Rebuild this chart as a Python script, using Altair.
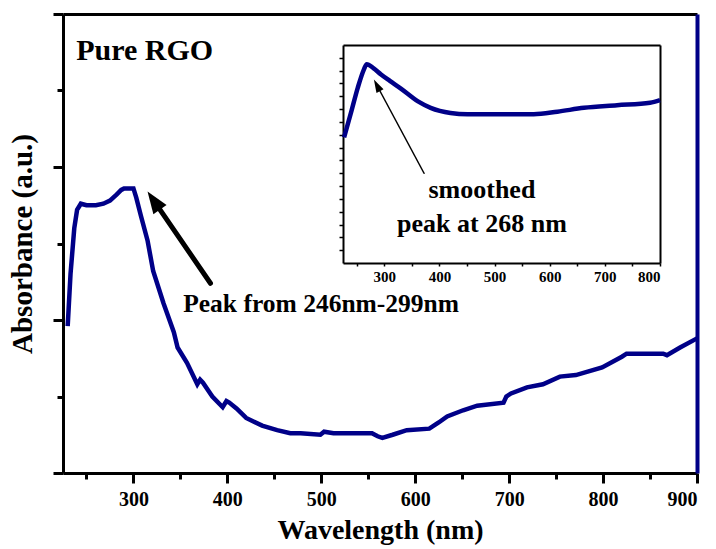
import math

import altair as alt
import pandas as pd

# Full UV-vis absorbance spectrum of pure RGO (nm, a.u.)
main_wavelength = [230, 233, 237, 240, 244, 250, 260, 268, 275, 282, 287, 290, 300, 303,
                   308, 315, 321, 332, 343, 347, 357, 368, 371, 374, 384, 395, 399, 402,
                   410, 420, 437, 453, 467, 478, 499, 503, 513, 554, 560, 565, 576, 591,
                   615, 625, 634, 651, 666, 694, 697, 702, 719, 736, 754, 771, 799, 820,
                   825, 864, 868, 882, 900]
main_absorbance = [0.96, 1.30, 1.60, 1.72, 1.76, 1.75, 1.75, 1.76, 1.78, 1.82, 1.85, 1.86,
                   1.86, 1.80, 1.68, 1.52, 1.32, 1.11, 0.92, 0.82, 0.72, 0.58, 0.61, 0.59,
                   0.50, 0.43, 0.47, 0.46, 0.42, 0.36, 0.31, 0.28, 0.26, 0.26, 0.25, 0.27,
                   0.26, 0.26, 0.24, 0.23, 0.25, 0.28, 0.29, 0.33, 0.37, 0.41, 0.44, 0.46,
                   0.50, 0.52, 0.56, 0.58, 0.63, 0.64, 0.69, 0.76, 0.78, 0.78, 0.77, 0.82,
                   0.88]

# Smoothed spectrum shown in the inset
inset_wavelength = [227, 240, 252, 263, 268, 280, 294, 310, 330, 361, 384, 420, 451, 511,
                    571, 614, 662, 722, 782, 800]
inset_absorbance = [0.98, 1.18, 1.37, 1.51, 1.55, 1.52, 1.47, 1.42, 1.36, 1.26, 1.21, 1.17,
                    1.16, 1.16, 1.16, 1.18, 1.21, 1.23, 1.25, 1.27]

# Axis ticks
main_x_ticks = list(range(250, 901, 50))
main_y_ticks = [0, 0.5, 1, 1.5, 2, 2.5, 3]
inset_x_ticks = list(range(250, 801, 50))
inset_y_ticks = [round(0.1 * i, 1) for i in range(1, 17)]

# Annotations: (wavelength, absorbance) anchors
sample_label = {"wl": 239, "ab": 2.70, "note": "Pure RGO"}
peak_label = {"wl": 353, "ab": 1.05, "note": "Peak from 246nm-299nm"}
peak_arrow = {"tail": (382, 1.24), "tip": (315, 1.84)}
inset_labels = {"wl": [477, 477], "ab": [0.51, 0.24], "note": ["smoothed", "peak at 268 nm"]}
inset_arrow = {"tail": (372, 0.70), "tip": (281, 1.43)}

NAVY = "#000088"
SERIF = "Liberation Serif"
W, H = 634, 459

MAIN_X = [225, 900]
MAIN_Y = [0, 3]
INSET_X = [225, 800]
INSET_Y = [0, 1.7]
INSET_XR = [280, 597]
INSET_YR = [249, 31]


def sx(dom, rng=None):
    if rng is None:
        return alt.Scale(domain=dom, nice=False, zero=False)
    return alt.Scale(domain=dom, range=rng, nice=False, zero=False)


def to_px(p, xd, yd, xr, yr):
    x = xr[0] + (p[0] - xd[0]) / (xd[1] - xd[0]) * (xr[1] - xr[0])
    y = yr[0] + (p[1] - yd[0]) / (yd[1] - yd[0]) * (yr[1] - yr[0])
    return x, y


def from_px(q, xd, yd, xr, yr):
    l = xd[0] + (q[0] - xr[0]) / (xr[1] - xr[0]) * (xd[1] - xd[0])
    v = yd[0] + (q[1] - yr[0]) / (yr[1] - yr[0]) * (yd[1] - yd[0])
    return l, v


def arrow_layers(arrow, xd, yd, xr, yr, width, head_len, head_half):
    tail = to_px(arrow["tail"], xd, yd, xr, yr)
    tip = to_px(arrow["tip"], xd, yd, xr, yr)
    dx, dy = tip[0] - tail[0], tip[1] - tail[1]
    n = math.hypot(dx, dy)
    ux, uy = dx / n, dy / n
    end = (tip[0] - ux * head_len * 0.6, tip[1] - uy * head_len * 0.6)
    end_d = from_px(end, xd, yd, xr, yr)
    shaft = pd.DataFrame({"x": [arrow["tail"][0]], "y": [arrow["tail"][1]],
                          "x2": [end_d[0]], "y2": [end_d[1]]})
    angle = math.degrees(math.atan2(dx, -dy)) % 360
    w = 2 * head_half / head_len
    path = f"M0,0L{-w:.3f},2L{w:.3f},2Z"
    head = pd.DataFrame({"x": [arrow["tip"][0]], "y": [arrow["tip"][1]]})
    sc_x = sx(xd, None if xr == [0, W] else xr)
    sc_y = sx(yd, None if yr == [H, 0] else yr)
    rule = alt.Chart(shaft).mark_rule(color="black", strokeWidth=width, strokeCap="round").encode(
        x=alt.X("x:Q", scale=sc_x, axis=None),
        y=alt.Y("y:Q", scale=sc_y, axis=None),
        x2="x2:Q", y2="y2:Q")
    tri = alt.Chart(head).mark_point(shape=path, filled=True, fill="black", strokeWidth=0,
                                     opacity=1, size=head_len ** 2, angle=angle).encode(
        x=alt.X("x:Q", scale=sc_x, axis=None),
        y=alt.Y("y:Q", scale=sc_y, axis=None))
    return [rule, tri]


main_df = pd.DataFrame({"wl": main_wavelength, "ab": main_absorbance,
                        "i": range(len(main_wavelength))})
inset_df = pd.DataFrame({"wl": inset_wavelength, "ab": inset_absorbance})

axis_font = dict(labelFont=SERIF, labelFontWeight="bold", labelColor="black",
                 titleFont=SERIF, titleFontWeight="bold", titleColor="black", grid=False)

main_line = alt.Chart(main_df).mark_line(color=NAVY, strokeWidth=4.5).encode(
    x=alt.X("wl:Q", scale=sx(MAIN_X), axis=alt.Axis(
        orient="bottom", values=main_x_ticks,
        labelExpr="datum.value % 100 === 0 ? datum.label : ''",
        tickSize={"condition": {"test": "datum.value % 100 === 0", "value": 10}, "value": 6},
        tickWidth=3, tickColor="black", domainWidth=3, domainColor="black",
        labelFontSize=20, labelPadding=6, title="Wavelength (nm)", titleFontSize=28,
        titlePadding=7, **axis_font)),
    y=alt.Y("ab:Q", scale=sx(MAIN_Y), axis=alt.Axis(
        orient="left", values=main_y_ticks, labels=False,
        tickSize={"condition": {"test": "datum.value % 1 === 0", "value": 10}, "value": 6},
        tickWidth=3, tickColor="black", domainWidth=3, domainColor="black",
        title="Absorbance (a.u.)", titleFontSize=29, titlePadding=14, **axis_font)),
    order="i:Q")

main_frame = alt.Chart(main_df).mark_line(strokeOpacity=0).encode(
    x=alt.X("wl:Q", scale=sx(MAIN_X), axis=alt.Axis(
        orient="top", ticks=False, labels=False, domainWidth=3, domainColor="black",
        title=None, grid=False)),
    y=alt.Y("ab:Q", scale=sx(MAIN_Y), axis=alt.Axis(
        orient="right", ticks=False, labels=False, domainWidth=4, domainColor=NAVY,
        title=None, grid=False)))

inset_line = alt.Chart(inset_df).mark_line(color=NAVY, strokeWidth=4.5,
                                           interpolate="monotone").encode(
    x=alt.X("wl:Q", scale=sx(INSET_X, INSET_XR), axis=alt.Axis(
        orient="bottom", offset=-(H - INSET_YR[0]), values=inset_x_ticks,
        labelExpr="datum.value % 100 === 0 ? datum.label : ''",
        tickSize=3, tickWidth=1.5, tickColor="black", domainWidth=2, domainColor="black",
        labelFontSize=15, labelPadding=3, title=None, **axis_font)),
    y=alt.Y("ab:Q", scale=sx(INSET_Y, INSET_YR), axis=alt.Axis(
        orient="left", offset=-INSET_XR[0], values=inset_y_ticks, labels=False,
        tickSize=4, tickWidth=1.5, tickColor="black", domainWidth=2, domainColor="black",
        title=None, grid=False)))

inset_frame = alt.Chart(inset_df).mark_line(strokeOpacity=0).encode(
    x=alt.X("wl:Q", scale=sx(INSET_X, INSET_XR), axis=alt.Axis(
        orient="top", offset=-INSET_YR[1], ticks=False, labels=False, domainWidth=2,
        domainColor="black", title=None, grid=False)),
    y=alt.Y("ab:Q", scale=sx(INSET_Y, INSET_YR), axis=alt.Axis(
        orient="right", offset=-(W - INSET_XR[1]), ticks=False, labels=False,
        domainWidth=2, domainColor="black", title=None, grid=False)))


def note_layer(df, size, align, xd, yd, xr=None, yr=None):
    return alt.Chart(pd.DataFrame(df)).mark_text(
        font=SERIF, fontWeight="bold", fontSize=size, align=align,
        baseline="alphabetic", color="black").encode(
        x=alt.X("wl:Q", scale=sx(xd, xr), axis=None),
        y=alt.Y("ab:Q", scale=sx(yd, yr), axis=None),
        text="note:N")


sample_text = note_layer({k: [v] for k, v in sample_label.items()}, 30, "left", MAIN_X, MAIN_Y)
peak_text = note_layer({k: [v] for k, v in peak_label.items()}, 25.5, "left", MAIN_X, MAIN_Y)
inset_text = note_layer(inset_labels, 26, "center", INSET_X, INSET_Y, INSET_XR, INSET_YR)

layers = [inset_frame, inset_line, main_frame, main_line, sample_text, peak_text, inset_text]
layers += arrow_layers(peak_arrow, MAIN_X, MAIN_Y, [0, W], [H, 0], 5, 22, 8)
layers += arrow_layers(inset_arrow, INSET_X, INSET_Y, INSET_XR, INSET_YR, 1.5, 13, 4)

chart = alt.layer(*layers).resolve_scale(x="independent", y="independent").properties(
    width=W, height=H,
    padding={"left": 63, "top": 14, "right": 19, "bottom": 76},
    autosize=alt.AutoSizeParams(type="none"),
    background="white",
).configure_view(stroke=None)

chart.save("out.html", embed_options={"renderer": "svg", "actions": False})
